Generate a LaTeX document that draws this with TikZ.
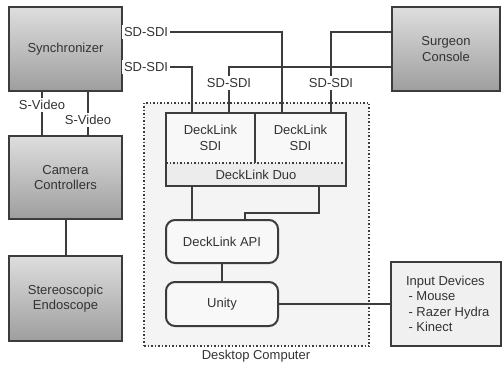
\documentclass[tikz,border=0pt]{standalone}
\usepackage{fontspec}
\setmainfont{Liberation Sans}
\definecolor{bord}{HTML}{3C3C3C}
\definecolor{txt}{HTML}{333333}
\definecolor{gtop}{HTML}{DEDEDE}
\definecolor{gbot}{HTML}{9E9E9E}
\definecolor{dfill}{HTML}{F4F4F4}
\definecolor{lfill}{HTML}{F8F8F8}
\definecolor{duofill}{HTML}{ECECEC}
\definecolor{infill}{HTML}{F0F0F0}
\begin{document}
\begin{tikzpicture}[x=1pt,y=-1pt,
  every node/.style={font=\fontsize{13}{15.5}\selectfont, text=txt, outer sep=0pt, inner sep=0pt, align=center},
  gbox/.style={draw=bord, line width=2.2pt, top color=gtop, bottom color=gbot},
  lbox/.style={draw=bord, line width=2pt, fill=lfill},
  rbox/.style={lbox, rounded corners=9pt},
  conn/.style={draw=bord, line width=2pt},
  lab/.style={fill=white, inner sep=2pt}]
\useasboundingbox (0,0) rectangle (502,366);

% desktop computer
\node[draw=bord, dotted, line width=1.5pt, fill=dfill, minimum width=225pt, minimum height=243pt] (desk) at (256.5,224.5) {};
\node (desklab) at (256,356) {Desktop Computer};

% gray boxes
\node[gbox, minimum width=113pt, minimum height=84pt] (sync) at (65.5,49) {Synchronizer};
\node[gbox, minimum width=113pt, minimum height=83pt] (cam) at (65.5,177.5) {Camera\\Controllers};
\node[gbox, minimum width=113pt, minimum height=85pt] (stereo) at (65.5,298.5) {Stereoscopic\\Endoscope};
\node[gbox, minimum width=108pt, minimum height=84pt] (console) at (446,49) {Surgeon\\Console};

% decklink card
\node[fill=duofill, minimum width=180pt, minimum height=23pt] (duo) at (256,174.5) {DeckLink Duo};
\node[fill=lfill, minimum width=89pt, minimum height=50pt] (sdi1) at (210.5,138) {DeckLink\\SDI};
\node[fill=lfill, minimum width=91pt, minimum height=50pt] (sdi2) at (300.5,138) {DeckLink\\SDI};
\draw[bord, dotted, line width=1.5pt] (duo.north west) -- (duo.north east);
\draw[bord, line width=2pt] (sdi1.north east) -- (sdi1.south east);
\draw[bord, line width=2pt] (sdi1.north west) rectangle (duo.south east);

% software
\node[rbox, minimum width=112pt, minimum height=43pt] (api) at (222,241.5) {DeckLink API};
\node[rbox, minimum width=112pt, minimum height=44pt] (unity) at (222,304) {Unity};

% input devices
\node[draw=bord, line width=2pt, fill=infill, minimum width=110pt, minimum height=84pt] (input) at (446,304) {};
\node[anchor=west, align=left] (inputtxt) at (406,304) {Input Devices\\\hspace*{2.5pt}- Mouse\\\hspace*{2.5pt}- Razer Hydra\\\hspace*{2.5pt}- Kinect};

% connectors
\draw[conn] ([yshift=17pt]sync.east) -| ([xshift=-18.5pt]sdi2.north);
\node[lab, anchor=west] (l1) at ([yshift=17pt]sync.east) {SD-SDI};
\draw[conn] ([yshift=-18pt]sync.east) -| ([xshift=-18.5pt]sdi1.north);
\node[lab, anchor=west] (l2) at ([yshift=-18pt]sync.east) {SD-SDI};
\draw[conn] ([yshift=-18pt]console.west) -| ([xshift=18.5pt]sdi1.north);
\node[lab] (l3) at (229,83) {SD-SDI};
\draw[conn] ([yshift=17pt]console.west) -| ([xshift=30.5pt]sdi2.north);
\node[lab] (l4) at (331,83) {SD-SDI};

\draw[conn] ([xshift=-23.5pt]sync.south) -- ([xshift=-23.5pt]cam.north);
\node[lab] (sv1) at (42,105) {S-Video};
\draw[conn] ([xshift=22.5pt]sync.south) -- ([xshift=22.5pt]cam.north);
\node[lab] (sv2) at (88,120) {S-Video};

\draw[conn] (cam.south) -- (stereo.north);
\draw[conn] ([xshift=-64pt]duo.south) -- ([xshift=-30pt]api.north);
\draw[conn] ([xshift=63pt]duo.south) -- ++(0,27) -| ([xshift=23pt]api.north);
\draw[conn] (api.south) -- (unity.north);
\draw[conn] (unity.east) -- (input.west);
\end{tikzpicture}
\end{document}
